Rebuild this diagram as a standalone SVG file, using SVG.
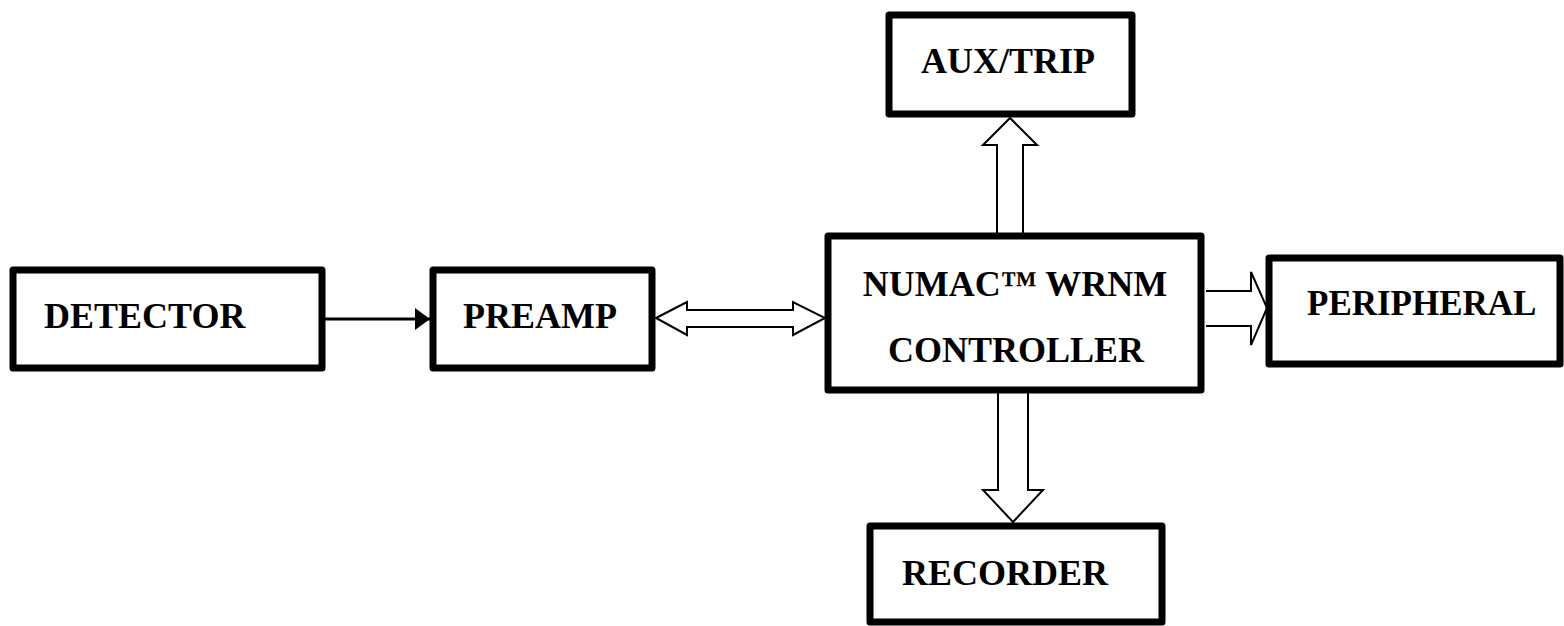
<svg xmlns="http://www.w3.org/2000/svg" width="1564" height="626" viewBox="0 0 1564 626">
<defs>
<style>
.box{fill:#fff;stroke:#000;stroke-width:7;stroke-linejoin:round}
.lbl{font-family:"Liberation Serif","Times New Roman",serif;font-weight:bold;font-size:36px;fill:#000}
.fat{fill:#fff;stroke:#000;stroke-width:2;stroke-linejoin:miter}
</style>
<marker id="ah" markerWidth="15" markerHeight="22" refX="15" refY="11" orient="auto" markerUnits="userSpaceOnUse">
<path d="M0,0 L15,11 L0,22 Z" fill="#000"/>
</marker>
</defs>
<rect width="1564" height="626" fill="#fff"/>
<g id="connectors">
<line x1="325" y1="319" x2="430" y2="319" stroke="#000" stroke-width="3" marker-end="url(#ah)"/>
<path class="fat" d="M656,318 L687,302 L687,310 L793,310 L793,302 L825,318 L793,335 L793,327 L687,327 L687,335 Z"/>
<path class="fat" d="M997,233 L997,145 L983,145 L1010,118 L1037,145 L1023,145 L1023,233"/>
<path class="fat" d="M998,393 L998,490 L983,490 L1013,522 L1043,490 L1028,490 L1028,393"/>
<path class="fat" d="M1206,291 L1251,291 L1251,272 L1267,308 L1251,345 L1251,326 L1206,326"/>
</g>
<g id="detector">
<rect class="box" x="13" y="270" width="309" height="98"/>
<text class="lbl" x="44" y="328">DETECTOR</text>
</g>
<g id="preamp">
<rect class="box" x="433" y="270" width="219" height="98"/>
<text class="lbl" x="463" y="328">PREAMP</text>
</g>
<g id="controller">
<rect class="box" x="828" y="236" width="373" height="154"/>
<text class="lbl" x="1015" y="296" text-anchor="middle">NUMAC™ WRNM</text>
<text class="lbl" x="1016" y="362" text-anchor="middle">CONTROLLER</text>
</g>
<g id="auxtrip">
<rect class="box" x="889" y="15" width="243" height="99"/>
<text class="lbl" x="921" y="73">AUX/TRIP</text>
</g>
<g id="recorder">
<rect class="box" x="870" y="526" width="292" height="96"/>
<text class="lbl" x="902" y="585">RECORDER</text>
</g>
<g id="peripheral">
<rect class="box" x="1269" y="258" width="291" height="106"/>
<text class="lbl" x="1307" y="315" style="font-size:35px">PERIPHERAL</text>
</g>
</svg>
